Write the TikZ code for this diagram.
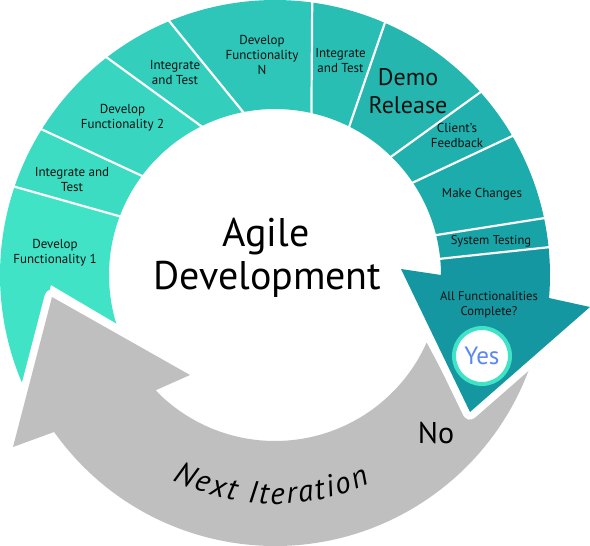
\documentclass[tikz,border=0pt]{standalone}
\usepackage{fontspec}
\setmainfont{PT Sans}
\usetikzlibrary{decorations.text}
\definecolor{sA}{HTML}{41E3C6}
\definecolor{sB}{HTML}{3CDCC2}
\definecolor{sC}{HTML}{38D6C0}
\definecolor{sD}{HTML}{33CEBC}
\definecolor{sE}{HTML}{2DC6B8}
\definecolor{sF}{HTML}{28BEB3}
\definecolor{sG}{HTML}{24B6AF}
\definecolor{sH}{HTML}{20B0AD}
\definecolor{sI}{HTML}{1CACAB}
\definecolor{sJ}{HTML}{18A4A7}
\definecolor{sK}{HTML}{1497A1}
\definecolor{greyc}{HTML}{BFBFBF}
\definecolor{yesblue}{HTML}{5A87F2}
\definecolor{txt}{HTML}{111111}
\newcommand\ringseg[5]{\fill[#5] (#1:275) arc[start angle=#1,end angle=#2,radius=275] -- (#4:166) arc[start angle=#4,end angle=#3,radius=166] -- cycle;}
\newcommand\ringsep[2]{\draw[white, line width=2.2] (#1:278) -- (#2:163);}
\begin{document}
\begin{tikzpicture}[x=1pt,y=1pt,
  lbl/.style={align=center, text=txt, inner sep=0, font=\fontsize{13}{15}\selectfont},
  small/.style={align=center, text=txt, inner sep=0, font=\fontsize{12.6}{15.5}\selectfont},
  big/.style={align=center, text=txt, inner sep=0, font=\fontsize{24}{28}\selectfont},
  title/.style={anchor=base, inner sep=0, text=black, font=\fontsize{40}{44}\selectfont},
  gap/.style={preaction={draw=white, line width=15, line join=round}}]
\useasboundingbox (-275,-271) rectangle (315,275);
% ring segments
\fill[sA] (161.3:275) arc[start angle=161.3,end angle=203.4,radius=275] -- (-224,-10) -- (197:166) arc[start angle=197,end angle=159.2,radius=166] -- cycle;
\ringseg{148.1}{161.3}{143.1}{159.2}{sB}
\ringseg{127.9}{148.1}{115.8}{143.1}{sC}
\ringseg{112.8}{127.9}{100.5}{115.8}{sD}
\ringseg{82.3}{112.8}{77.1}{100.5}{sE}
\ringseg{66.5}{82.3}{63.3}{77.1}{sF}
\ringseg{41.6}{66.5}{45.7}{63.3}{sG}
\ringseg{30.3}{41.6}{34.0}{45.7}{sH}
\ringseg{11.9}{30.3}{14.0}{34.0}{sI}
% grey next-iteration arrow
\fill[greyc, gap] (-223,-22) -- (-262,-172) -- (215.4:271) arc[start angle=215.4,end angle=340.1,radius=271] -- (193,-145) -- (336:166) arc[start angle=336,end angle=224,radius=166] -- (-85,-100) -- cycle;
% all functionalities arrow
\fill[sK, gap] (5.6:166) -- (5.8:275) arc[start angle=5.8,end angle=-4.8,radius=275] -- (315,-32) -- (195,-137) -- (126,6) -- (0:166) arc[start angle=0,end angle=5.6,radius=166] -- cycle;
\ringseg{5.8}{11.9}{5.6}{14.0}{sJ}
% separators
\ringsep{161.3}{159.2}
\ringsep{148.1}{143.1}
\ringsep{127.9}{115.8}
\ringsep{112.8}{100.5}
\ringsep{82.3}{77.1}
\ringsep{66.5}{63.3}
\ringsep{41.6}{45.7}
\ringsep{30.3}{34.0}
\ringsep{11.9}{14.0}
\ringsep{5.8}{5.6}
% labels
\node[lbl] (df1) at (-220,22.5) {Develop\\Functionality 1};
\node[lbl] (it1) at (-203,95.5) {Integrate and\\Test};
\node[lbl] (df2) at (-152.5,157) {Develop\\Functionality 2};
\node[lbl] (it2) at (-100,202.5) {Integrate\\and Test};
\node[lbl] (dfn) at (-13,220) {Develop\\Functionality\\N};
\node[lbl] (it3) at (65.5,214) {Integrate\\and Test};
\node[big] (demo) at (133,184) {Demo\\Release};
\node[lbl] (client) at (182,139.5) {Client’s\\Feedback};
\node[lbl] (make) at (207,81) {Make Changes};
\node[small] (syst) at (216,34) {System Testing};
\node[small] (allf) at (214,-30) {All Functionalities\\Complete?};
\node[circle, draw=sA, line width=4, fill=white, minimum size=56, inner sep=0] (yes) at (207,-81) {\fontsize{25}{25}\selectfont\color{yesblue}Yes};
\node[title] (agile) at (-9,28) {Agile};
\node[title] (devel) at (-7.5,-15) {Development};
\node[anchor=base, inner sep=0, text=black, font=\fontsize{30}{32}\selectfont] (no) at (161,-169) {No};
\path[decorate, decoration={text along path, text align={fit to path}, text={|\fontsize{31}{31}\selectfont\itshape|Next Iteration}}] (243.5:229) arc[start angle=243.5,end angle=294.5,radius=229];
\end{tikzpicture}
\end{document}
